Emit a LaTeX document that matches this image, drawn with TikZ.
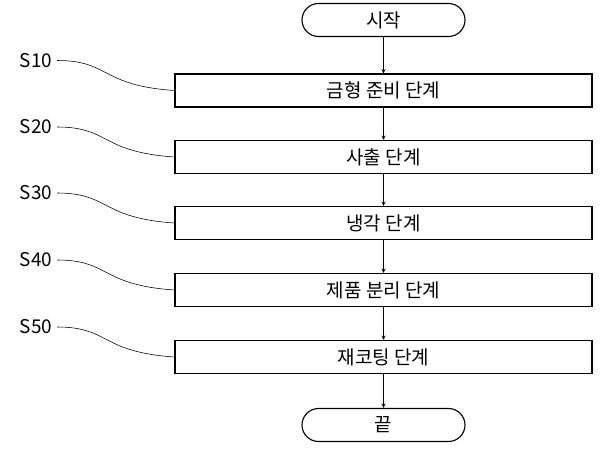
\documentclass[tikz,border=0pt]{standalone}
\usepackage{fontspec}
\setmainfont{Noto Sans CJK KR}
\usetikzlibrary{positioning,shapes.misc}
\begin{document}
\begin{tikzpicture}[x=0.025cm,y=-0.025cm]
\tikzstyle{every node}=[font=\fontsize{13.5}{16}\selectfont]
\tikzstyle{stepbox}=[draw,thick,minimum width=417*0.025cm,minimum height=33*0.025cm,inner sep=0pt]
\tikzstyle{term}=[draw,thick,rounded rectangle,minimum width=163*0.025cm,minimum height=33*0.025cm,inner sep=0pt]

\useasboundingbox (0,0) rectangle (600,453);

% start / end
\node[term] (start) at (383.5,20) {시작};
\node[term] (end) at (383.5,425) {끝};

% steps
\foreach \n/\y/\txt in {1/90.5/금형 준비 단계,2/157/사출 단계,3/223/냉각 단계,4/290/제품 분리 단계,5/357/재코팅 단계}
{
	\node[stepbox] (s\n) at (383.5,\y) {\txt};
	\node (l\n) at (36,\y-30) {S\n0};
	\draw (l\n.east) .. controls (110,\y-30) and (100,\y-5) .. (s\n.west);
}

% arrows
\draw[-stealth] (start) -- (s1);
\foreach \a/\b in {1/2,2/3,3/4,4/5}
	\draw[-stealth] (s\a) -- (s\b);
\draw[-stealth] (s5) -- (end);

\end{tikzpicture}
\end{document}
